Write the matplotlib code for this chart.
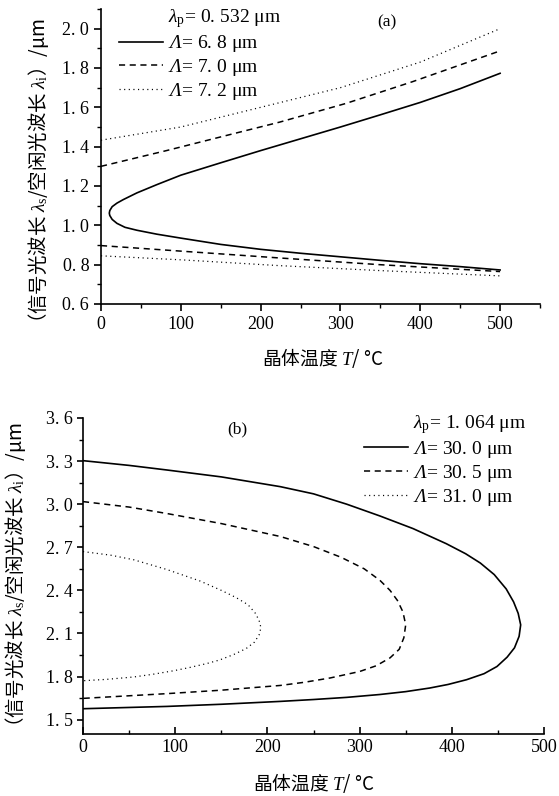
import matplotlib
matplotlib.use("Agg")
import matplotlib.pyplot as plt
from matplotlib.lines import Line2D
from matplotlib.ticker import MultipleLocator, FuncFormatter

plt.rcParams['font.family'] = ['Liberation Serif', 'Noto Sans CJK SC']
# Times-like maths; 'sf' slot used for the italic capital Lambda
plt.rcParams['mathtext.fontset'] = 'custom'
plt.rcParams['mathtext.rm'] = 'Liberation Serif'
plt.rcParams['mathtext.it'] = 'Liberation Serif:italic'
plt.rcParams['mathtext.sf'] = 'Liberation Serif:italic'
plt.rcParams['mathtext.bf'] = 'Liberation Serif:bold'

# ---- (a) lambda_p = 0.532 um ----
# period 6.8 um: one curve folding back at low temperature
t_a1 = [500, 450, 400, 350, 300, 250, 200, 150, 100, 70, 45, 30, 20, 14, 11, 10.4, 11, 14, 20, 28, 45, 70, 100, 150,
        200, 250, 300, 350, 400, 450, 500]
l_a1 = [0.773, 0.79, 0.805, 0.822, 0.84, 0.858, 0.878, 0.903, 0.935, 0.955, 0.975, 0.99, 1.01, 1.03, 1.05, 1.062,
        1.075, 1.095, 1.113, 1.131, 1.165, 1.207, 1.255, 1.318, 1.38, 1.44, 1.50, 1.562, 1.625, 1.695, 1.773]
# period 7.0 um: signal and idler branches
t_a2 = [0, 82, 165, 224, 307, 390, 453, 500]
l_a2_up = [1.30, 1.38, 1.465, 1.525, 1.62, 1.73, 1.82, 1.887]
t_a2_lo = [0, 103, 224, 349, 500]
l_a2_lo = [0.897, 0.868, 0.834, 0.80, 0.765]
# period 7.2 um
t_a3 = [0, 100, 200, 300, 400, 500]
l_a3_up = [1.433, 1.50, 1.60, 1.70, 1.83, 2.0]
t_a3_lo = [0, 103, 224, 349, 500]
l_a3_lo = [0.845, 0.824, 0.795, 0.77, 0.743]

# ---- (b) lambda_p = 1.064 um ----
t_b1 = [0, 50, 91, 150, 214, 250, 286, 322, 358, 394, 415, 431, 446, 459, 467, 472, 474.7, 473, 468, 460, 449, 435,
        416, 396, 376, 350, 322, 286, 250, 214, 150, 91, 0]
l_b1 = [3.303, 3.27, 3.238, 3.19, 3.122, 3.072, 3.0, 2.918, 2.83, 2.725, 2.655, 2.59, 2.51, 2.41, 2.32, 2.24, 2.16,
        2.08, 2.0, 1.935, 1.87, 1.82, 1.778, 1.745, 1.72, 1.695, 1.675, 1.655, 1.64, 1.627, 1.607, 1.592, 1.576]
t_b2 = [0, 50, 91, 150, 214, 250, 280, 305, 322, 333, 341, 347, 350, 348, 343, 333, 318, 300, 268, 240, 214, 150, 91,
        0]
l_b2 = [3.018, 2.98, 2.935, 2.865, 2.775, 2.705, 2.63, 2.55, 2.47, 2.40, 2.33, 2.25, 2.16, 2.07, 1.99, 1.93, 1.875,
        1.835, 1.79, 1.76, 1.738, 1.705, 1.681, 1.648]
t_b3 = [0, 30, 55, 91, 127, 150, 166, 179, 187, 191, 193, 191, 186, 177, 163, 148, 134, 115, 98, 75, 55, 25, 0]
l_b3 = [2.67, 2.645, 2.613, 2.545, 2.465, 2.40, 2.35, 2.30, 2.24, 2.19, 2.14, 2.09, 2.04, 1.995, 1.952, 1.915, 1.89,
        1.862, 1.84, 1.815, 1.797, 1.78, 1.771]

labels_a = [r'$\lambda_{\rm p}$= 0. 532 μm', r'$\mathsf{\Lambda}$= 6. 8 μm', r'$\mathsf{\Lambda}$= 7. 0 μm',
            r'$\mathsf{\Lambda}$= 7. 2 μm']
labels_b = [r'$\lambda_{\rm p}$= 1. 064 μm', r'$\mathsf{\Lambda}$= 30. 0 μm', r'$\mathsf{\Lambda}$= 30. 5 μm',
            r'$\mathsf{\Lambda}$= 31. 0 μm']

ylabel = r'（信号光波长 $\lambda_{\rm s}$/空闲光波长 $\lambda_{\rm i}$）/μm'
xlabel = r'晶体温度 $T$/ °C'
CJK = 'Noto Sans CJK SC'

SOLID = dict(color='black', lw=1.2, linestyle='-')
DASH = dict(color='black', lw=1.1, linestyle=(0, (4, 3)))
DOT = dict(color='black', lw=0.9, linestyle=(0, (0.9, 2.8)))

fmt1 = FuncFormatter(lambda v, p: f"{v:.1f}".replace('.', '. '))

W, H = 559, 796
fig = plt.figure(figsize=(W / 100, H / 100), dpi=100)

# axes placed in pixel terms of the reference
ax1 = fig.add_axes([101 / W, 1 - 304 / H, 439 / W, 295 / H])
ax2 = fig.add_axes([83 / W, 1 - 734 / H, 461 / W, 316 / H])

for ax in (ax1, ax2):
    ax.spines['top'].set_visible(False)
    ax.spines['right'].set_visible(False)
    ax.spines['left'].set_linewidth(1.2)
    ax.spines['bottom'].set_linewidth(1.2)
    ax.yaxis.set_major_formatter(fmt1)
    ax.tick_params(labelsize=13)

leg_kw = dict(loc='upper left', frameon=False, fontsize=14, handlelength=2.3, handletextpad=0.25,
              labelspacing=0.15, borderpad=0, borderaxespad=0)

# ---- panel (a)
ax1.plot(t_a1, l_a1, **SOLID)
ax1.plot(t_a2, l_a2_up, **DASH)
ax1.plot(t_a2_lo, l_a2_lo, **DASH)
ax1.plot(t_a3, l_a3_up, **DOT)
ax1.plot(t_a3_lo, l_a3_lo, **DOT)
ax1.set_xlim(0, 550)
ax1.set_ylim(0.6, 2.1)
ax1.set_xticks([0, 100, 200, 300, 400, 500])
ax1.xaxis.set_minor_locator(MultipleLocator(50))
ax1.set_yticks([0.6, 0.8, 1.0, 1.2, 1.4, 1.6, 1.8, 2.0])
ax1.yaxis.set_minor_locator(MultipleLocator(0.1))
ax1.tick_params(which='major', direction='out', length=5, width=1.2)
ax1.tick_params(which='minor', direction='out', length=3, width=1.0)

h_a = [Line2D([], [], color='none'), Line2D([], [], **SOLID), Line2D([], [], **DASH), Line2D([], [], **DOT)]
ax1.legend(h_a, labels_a, bbox_to_anchor=(0.04, 1.005), **leg_kw)
ax1.text(0.651, 0.955, '(a)', transform=ax1.transAxes, ha='center', va='center', fontsize=12.5)
ax1.set_xlabel(xlabel, fontsize=13.5, family=CJK)
ax1.set_ylabel(ylabel, fontsize=14, family=CJK)
ax1.xaxis.set_label_coords(0.506, -0.143)
ax1.yaxis.set_label_coords(-0.115, 0.434)

# ---- panel (b)
ax2.plot(t_b1, l_b1, **SOLID)
ax2.plot(t_b2, l_b2, **DASH)
ax2.plot(t_b3, l_b3, **DOT)
ax2.set_xlim(0, 500)
ax2.set_ylim(1.4, 3.6)
ax2.set_xticks([0, 100, 200, 300, 400, 500])
ax2.xaxis.set_minor_locator(MultipleLocator(50))
ax2.set_yticks([1.5, 1.8, 2.1, 2.4, 2.7, 3.0, 3.3, 3.6])
ax2.yaxis.set_minor_locator(MultipleLocator(0.15))
ax2.tick_params(axis='x', which='major', direction='in', length=5, width=1.2)
ax2.tick_params(axis='x', which='minor', direction='in', length=3, width=1.0)
ax2.tick_params(axis='y', which='major', direction='out', length=4, width=1.2)
ax2.tick_params(axis='y', which='minor', direction='out', length=3, width=1.0)

h_b = [Line2D([], [], color='none'), Line2D([], [], **SOLID), Line2D([], [], **DASH), Line2D([], [], **DOT)]
ax2.legend(h_b, labels_b, bbox_to_anchor=(0.609, 1.015), **leg_kw)
ax2.text(0.334, 0.965, '(b)', transform=ax2.transAxes, ha='center', va='center', fontsize=12.5)
ax2.set_xlabel(xlabel, fontsize=13.5, family=CJK)
ax2.set_ylabel(ylabel, fontsize=14, family=CJK)
ax2.xaxis.set_label_coords(0.50, -0.118)
ax2.yaxis.set_label_coords(-0.119, 0.49)

fig.savefig('out.png', dpi=100)
